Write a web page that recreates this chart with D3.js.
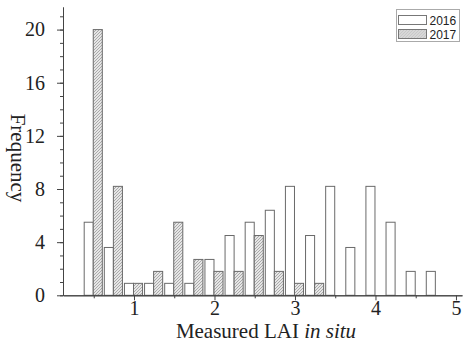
<html>
    <head>
        <script src="https://d3js.org/d3.v7.min.js"></script>
        <style>
            body { margin: 0; background: #fff; }
            svg { font-family: "Liberation Serif", "Times New Roman", serif; }
            .axis path, .axis line { stroke: #444; stroke-width: 1; }
            .legend text { font-family: "Liberation Sans", Arial, sans-serif; font-size: 12px; fill: #222; }
        </style>
    </head>
    <body>
        <div id="chart"></div>
        <script>
        // bin centres (LAI) and frequencies
        var bins = [0.5, 0.75, 1.0, 1.25, 1.5, 1.75, 2.0, 2.25, 2.5, 2.75, 3.0, 3.25, 3.5, 3.75, 4.0, 4.25, 4.5, 4.75];
        var freq2016 = [5.5, 3.6, 0.9, 0.9, 0.9, 0.9, 2.7, 4.5, 5.5, 6.4, 8.2, 4.5, 8.2, 3.6, 8.2, 5.5, 1.8, 1.8];
        var freq2017 = [20, 8.2, 0.9, 1.8, 5.5, 2.7, 1.8, 1.8, 4.5, 1.8, 0.9, 0.9, 0, 0, 0, 0, 0, 0];
        var xTicks = [1, 2, 3, 4, 5];
        var xMinorTicks = [0.5, 1.5, 2.5, 3.5, 4.5];
        var yTicks = [0, 4, 8, 12, 16, 20];
        var yMinorTicks = d3.range(0, 22);
        var years = ["2016", "2017"];

        var width = 464, height = 342;
        var binWidth = 0.25;
        var serif = '"Liberation Serif", "Times New Roman", serif';

        var svg = d3.select("#chart").append("svg")
            .attr("width", width)
            .attr("height", height);

        /* hatch pattern for 2017 */
        var defs = svg.append("defs");
        var pat = defs.append("pattern")
            .attr("id", "hatch")
            .attr("patternUnits", "userSpaceOnUse")
            .attr("width", 3).attr("height", 3);
        pat.append("rect").attr("width", 3).attr("height", 3).attr("fill", "#e6e6e6");
        pat.append("path")
            .attr("d", "M-1,1 l2,-2 M0,3 l3,-3 M2,4 l2,-2")
            .attr("stroke", "#999")
            .attr("stroke-width", 0.8);

        /* Scale */
        var xScale = d3.scaleLinear().domain([0.118, 5.075]).range([63, 462]);
        var yScale = d3.scaleLinear().domain([0, 21.7]).range([295.3, 7]);

        var half = binWidth * 0.45;

        /* bars */
        var bars = svg.append("g");
        bars.selectAll(".b2016")
            .data(bins.map((b, i) => ({x: b, v: freq2016[i]})).filter(d => d.v > 0))
            .enter().append("rect")
            .attr("class", "b2016")
            .attr("x", d => xScale(d.x - half) - 0.5)
            .attr("width", d => xScale(d.x) - xScale(d.x - half))
            .attr("y", d => yScale(d.v))
            .attr("height", d => yScale(0) - yScale(d.v))
            .attr("fill", "#fff")
            .attr("stroke", "#6a6a6a")
            .attr("stroke-width", 1);
        bars.selectAll(".b2017")
            .data(bins.map((b, i) => ({x: b, v: freq2017[i]})).filter(d => d.v > 0))
            .enter().append("rect")
            .attr("class", "b2017")
            .attr("x", d => xScale(d.x) - 0.5)
            .attr("width", d => xScale(d.x + half) - xScale(d.x))
            .attr("y", d => yScale(d.v))
            .attr("height", d => yScale(0) - yScale(d.v))
            .attr("fill", "url(#hatch)")
            .attr("stroke", "#6a6a6a")
            .attr("stroke-width", 1);

        /* Axes */
        function styleAxis(g) {
            g.attr("font-family", null).attr("font-size", null);
            g.selectAll("text")
                .style("font-family", serif)
                .style("font-size", "20px")
                .style("fill", "#222");
        }
        svg.append("g")
            .attr("class", "axis")
            .attr("transform", `translate(0, ${yScale(0)})`)
            .call(d3.axisBottom(xScale).tickValues(xMinorTicks).tickSize(3).tickSizeOuter(0).tickFormat(""));
        svg.append("g")
            .attr("class", "axis")
            .attr("transform", `translate(0, ${yScale(0)})`)
            .call(d3.axisBottom(xScale).tickValues(xTicks).tickSize(5).tickSizeOuter(0).tickPadding(1).tickFormat(d3.format("d")))
            .call(styleAxis);

        svg.append("g")
            .attr("class", "axis")
            .attr("transform", `translate(${xScale.range()[0]}, 0)`)
            .call(d3.axisLeft(yScale).tickValues(yMinorTicks).tickSize(3).tickSizeOuter(0).tickFormat(""));
        svg.append("g")
            .attr("class", "axis")
            .attr("transform", `translate(${xScale.range()[0]}, 0)`)
            .call(d3.axisLeft(yScale).tickValues(yTicks).tickSize(6).tickSizeOuter(0).tickPadding(12))
            .call(styleAxis);

        /* axis titles */
        var xt = svg.append("text")
            .attr("x", 266)
            .attr("y", 338)
            .attr("text-anchor", "middle")
            .style("font-size", "21px")
            .attr("fill", "#222");
        xt.append("tspan").text("Measured LAI ");
        xt.append("tspan").style("font-style", "italic").text("in situ");

        svg.append("text")
            .attr("transform", "translate(11, 158) rotate(90)")
            .attr("text-anchor", "middle")
            .style("font-size", "21px")
            .attr("fill", "#222")
            .text("Frequency");

        /* legend */
        var legend = svg.append("g").attr("class", "legend");
        legend.append("rect")
            .attr("x", 396.5).attr("y", 9.5)
            .attr("width", 63).attr("height", 32)
            .attr("fill", "#fff")
            .attr("stroke", "#aaa");
        var item = legend.selectAll(".item").data(years)
            .enter().append("g")
            .attr("class", "item")
            .attr("transform", (d, i) => `translate(398.5, ${15.5 + i * 14})`);
        item.append("rect")
            .attr("width", 28).attr("height", 9)
            .attr("fill", (d, i) => i === 0 ? "#fff" : "url(#hatch)")
            .attr("stroke", "#777");
        item.append("text")
            .attr("x", 31)
            .attr("y", 9)
            .text(d => d);
        </script>
    </body>
</html>
